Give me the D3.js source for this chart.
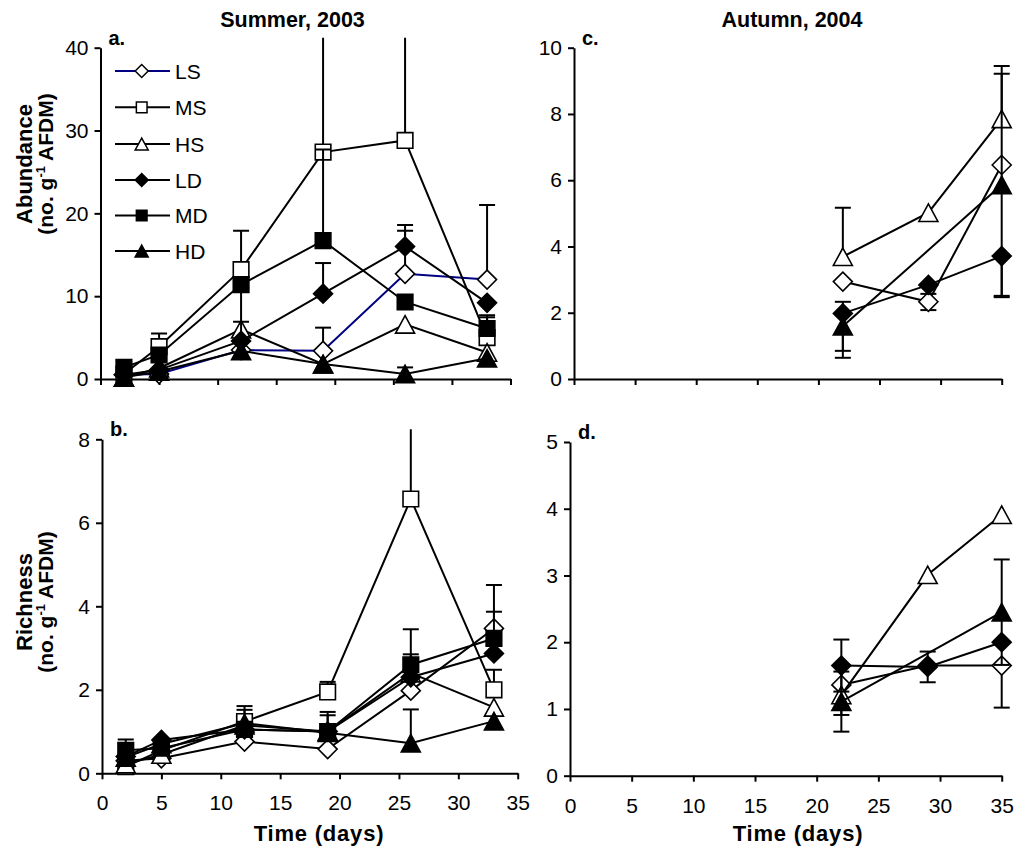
<!DOCTYPE html>
<html>
<head>
<meta charset="utf-8">
<script src="https://cdn.jsdelivr.net/npm/d3@7"></script>
<style>
  html, body { margin: 0; padding: 0; background: #fff; }
  svg { display: block; }
</style>
</head>
<body>
<svg id="chart" width="1021" height="847"></svg>
<script>
// ---------------- data ----------------
const summerDays = [2, 5, 12, 19, 26, 33];
const autumnDays = [22, 29, 35];
const treatments = ["LS", "MS", "HS", "LD", "MD", "HD"];
const xTicks = [0, 5, 10, 15, 20, 25, 30, 35];

// Summer 2003 abundance (no. g-1 AFDM), mean and upper SE
const abSumLS = [0.5, 0.6, 3.5, 3.4, 12.7, 12.0];
const abSumMS = [0.6, 3.9, 13.2, 27.4, 28.8, 5.0];
const abSumHS = [0.2, 1.3, 6.0, 1.8, 6.6, 3.2];
const abSumLD = [0.5, 1.1, 4.6, 10.3, 16.0, 9.2];
const abSumMD = [1.4, 2.9, 11.4, 16.7, 9.3, 6.1];
const abSumHD = [0.2, 0.9, 3.4, 1.8, 0.6, 2.5];
const abSumErrLS = [0, 0, 0, 2.8, 5.2, 9.0];
const abSumErrMS = [0, 1.6, 4.7, 20, 20, 2.45];
const abSumErrHS = [0, 0, 5.0, 0, 0, 0];
const abSumErrLD = [0, 0, 2.3, 3.7, 2.6, 0];
const abSumErrMD = [0, 0, 0, 11.0, 0, 1.6];
const abSumErrHD = [0, 0, 0, 0, 0.8, 0];

// Summer 2003 richness (no. g-1 AFDM), mean and upper SE
const riSumLS = [0.3, 0.36, 0.76, 0.58, 1.98, 3.47];
const riSumMS = [0.16, 0.55, 1.24, 1.95, 6.57, 2.0];
const riSumHS = [0.22, 0.45, 1.15, 1.0, 2.4, 1.58];
const riSumLD = [0.4, 0.8, 1.05, 1.0, 2.3, 2.87];
const riSumMD = [0.55, 0.6, 1.05, 1.0, 2.6, 3.23];
const riSumHD = [0.38, 0.7, 1.2, 0.97, 0.72, 1.25];
const riSumErrLS = [0, 0, 0, 0, 0, 0.4];
const riSumErrMS = [0, 0, 0.37, 0.24, 2.0, 0.48];
const riSumErrHS = [0, 0, 0, 0, 0, 0];
const riSumErrLD = [0, 0, 0, 0.39, 0.55, 0];
const riSumErrMD = [0.26, 0, 0, 0.47, 0.85, 1.28];
const riSumErrHD = [0, 0, 0.32, 0, 0.81, 0];

// Autumn 2004 abundance (null = not sampled)
const abAutLS = [2.94, 2.33, 6.46];
const abAutHS = [3.69, 5.02, 7.85];
const abAutLD = [1.98, 2.84, 3.71];
const abAutHD = [1.59, null, 5.86];
const abAutErrLS = [0, 0.25, 0];
const abAutErrHS = [1.48, 0, 1.6];
const abAutErrLD = [1.34, 0.27, 1.24];
const abAutErrHD = [0.74, 0, 3.35];

// Autumn 2004 richness
const riAutLS = [1.36, 1.65, 1.65];
const riAutHS = [1.21, 3.01, 3.91];
const riAutLD = [1.65, 1.63, 2.0];
const riAutHD = [1.11, null, 2.45];
const riAutErrLS = [0, 0, 0.63];
const riAutErrHS = [0.3, 0, 0];
const riAutErrLD = [0.39, 0.23, 0];
const riAutErrHD = [0.45, 0, 0.79];

// ---------------- styling ----------------
const FONT = '"Liberation Sans", Arial, Helvetica, sans-serif';
const TICK_SIZE = "21px";
const markerStyle = {
  LS: { shape: "diamond",  fill: "#fff" },
  MS: { shape: "square",   fill: "#fff" },
  HS: { shape: "triangle", fill: "#fff" },
  LD: { shape: "diamond",  fill: "#000" },
  MD: { shape: "square",   fill: "#000" },
  HD: { shape: "triangle", fill: "#000" }
};

function markerPath(shape, s) {
  // s: nominal marker size in px
  if (shape === "diamond") {
    const r = s * 0.5;
    return `M0,${-r}L${r},0L0,${r}L${-r},0Z`;
  }
  if (shape === "square") {
    const h = s * 0.41;
    return `M${-h},${-h}H${h}V${h}H${-h}Z`;
  }
  const w = s * 0.5, h = s * 0.46;
  return `M0,${-h}L${w},${h}L${-w},${h}Z`;
}

function mk(name, values, err, dir, color) {
  return { name, values, err, dir, color: color || "#000" };
}

const panels = [
  {
    letter: "a.", days: summerDays, yMax: 40, yStep: 10,
    xRange: [100.5, 510.5], yRange: [379, 47.7], xLabels: false,
    series: [
      mk("LS", abSumLS, abSumErrLS, "up", "#000080"),
      mk("MS", abSumMS, abSumErrMS, "up"),
      mk("HS", abSumHS, abSumErrHS, "up"),
      mk("LD", abSumLD, abSumErrLD, "up"),
      mk("MD", abSumMD, abSumErrMD, "up"),
      mk("HD", abSumHD, abSumErrHD, "up")
    ]
  },
  {
    letter: "b.", days: summerDays, yMax: 8, yStep: 2,
    xRange: [102, 517.7], yRange: [773.3, 439.3], xLabels: true,
    series: [
      mk("LS", riSumLS, riSumErrLS, "up"),
      mk("MS", riSumMS, riSumErrMS, "up"),
      mk("HS", riSumHS, riSumErrHS, "up"),
      mk("LD", riSumLD, riSumErrLD, "up"),
      mk("MD", riSumMD, riSumErrMD, "up"),
      mk("HD", riSumHD, riSumErrHD, "up")
    ]
  },
  {
    letter: "c.", days: autumnDays, yMax: 10, yStep: 2,
    xRange: [574, 1001.7], yRange: [379, 47.7], xLabels: false,
    series: [
      mk("LS", abAutLS, abAutErrLS, "down"),
      mk("HS", abAutHS, abAutErrHS, "up"),
      mk("LD", abAutLD, abAutErrLD, "down"),
      mk("HD", abAutHD, abAutErrHD, "both")
    ]
  },
  {
    letter: "d.", days: autumnDays, yMax: 5, yStep: 1,
    xRange: [570, 1001.7], yRange: [775.7, 442], xLabels: true,
    series: [
      mk("LS", riAutLS, riAutErrLS, "down"),
      mk("HS", riAutHS, riAutErrHS, "down"),
      mk("LD", riAutLD, riAutErrLD, "both"),
      mk("HD", riAutHD, riAutErrHD, "both")
    ]
  }
];

// ---------------- drawing ----------------
const svg = d3.select("#chart").style("font-family", FONT);

panels.forEach((p, pi) => {
  const x = d3.scaleLinear().domain([0, 35]).range(p.xRange);
  const y = d3.scaleLinear().domain([0, p.yMax]).range(p.yRange);
  const g = svg.append("g");

  // clip region: the plot area plus a little head-room for error bars
  const clipId = "clip" + pi;
  svg.append("clipPath").attr("id", clipId).append("rect")
    .attr("x", p.xRange[0] - 20).attr("y", p.yRange[1] - 10)
    .attr("width", p.xRange[1] - p.xRange[0] + 40)
    .attr("height", p.yRange[0] - p.yRange[1] + 30);

  // axes
  const xAxis = d3.axisBottom(x).tickValues(xTicks).tickSize(6)
    .tickSizeOuter(0).tickPadding(16).tickFormat(d3.format("d"));
  if (!p.xLabels) xAxis.tickFormat("");
  const gx = g.append("g").attr("transform", `translate(0,${p.yRange[0]})`).call(xAxis);

  const yAxis = d3.axisLeft(y).tickValues(d3.range(0, p.yMax + 1e-9, p.yStep))
    .tickSize(6).tickSizeOuter(0).tickPadding(6).tickFormat(d3.format("d"));
  const gy = g.append("g").attr("transform", `translate(${p.xRange[0]},0)`).call(yAxis);

  [gx, gy].forEach(ax => {
    ax.select(".domain").attr("stroke", "#000").attr("stroke-width", 2);
    ax.selectAll(".tick line").attr("stroke", "#000").attr("stroke-width", 2);
    ax.selectAll(".tick text").attr("fill", "#000")
      .style("font-size", TICK_SIZE).style("font-family", FONT);
  });

  // panel letter
  g.append("text").attr("x", p.xRange[0] + 8).attr("y", p.yRange[1] - 3)
    .style("font-size", "20px").style("font-weight", "bold").text(p.letter);

  const plot = g.append("g");

  p.series.forEach(s => {
    const st = markerStyle[s.name];
    const pts = p.days.map((d, i) => ({ day: d, v: s.values[i], e: s.err[i] }))
      .filter(d => d.v !== null);

    // connecting line
    const line = d3.line().x(d => x(d.day)).y(d => y(d.v));
    plot.append("path").datum(pts).attr("d", line)
      .attr("fill", "none").attr("stroke", s.color).attr("stroke-width", 2);

    // error bars
    const eg = plot.append("g").attr("clip-path", `url(#${clipId})`);
    pts.filter(d => d.e > 0).forEach(d => {
      const ends = [];
      if (s.dir === "up" || s.dir === "both") ends.push(d.v + d.e);
      if (s.dir === "down" || s.dir === "both") ends.push(d.v - d.e);
      ends.forEach(ev => {
        eg.append("line").attr("x1", x(d.day)).attr("x2", x(d.day))
          .attr("y1", y(d.v)).attr("y2", y(ev))
          .attr("stroke", "#000").attr("stroke-width", 2);
        eg.append("line").attr("x1", x(d.day) - 8).attr("x2", x(d.day) + 8)
          .attr("y1", y(ev)).attr("y2", y(ev))
          .attr("stroke", "#000").attr("stroke-width", 2);
      });
    });

    // markers
    plot.append("g").selectAll("path").data(pts).join("path")
      .attr("d", markerPath(st.shape, 19))
      .attr("transform", d => `translate(${x(d.day)},${y(d.v)})`)
      .attr("fill", st.fill).attr("stroke", "#000").attr("stroke-width", 1.6);
  });
});

// ---------------- legend (panel a) ----------------
const legendRows = [71, 107.3, 144, 180, 215.5, 251];
const legend = svg.append("g");
treatments.forEach((name, i) => {
  const st = markerStyle[name];
  const yy = legendRows[i];
  legend.append("line").attr("x1", 115).attr("x2", 170).attr("y1", yy).attr("y2", yy)
    .attr("stroke", name === "LS" ? "#000080" : "#000").attr("stroke-width", 2);
  legend.append("path").attr("d", markerPath(st.shape, 13))
    .attr("transform", `translate(141.7,${yy})`)
    .attr("fill", st.fill).attr("stroke", "#000").attr("stroke-width", 1.5);
  legend.append("text").attr("x", 175).attr("y", yy + 7.5)
    .style("font-size", "21px").text(name);
});

// ---------------- titles ----------------
function boldText(x, y, txt, size, spacing) {
  return svg.append("text").attr("x", x).attr("y", y).attr("text-anchor", "middle")
    .style("font-size", size + "px").style("font-weight", "bold")
    .style("letter-spacing", (spacing || 0) + "px").text(txt);
}
boldText(292.5, 27, "Summer, 2003", 21.5);
boldText(792, 27, "Autumn, 2004", 21.5);
boldText(319, 841, "Time (days)", 22, 0.8);
boldText(798, 841, "Time (days)", 22, 0.8);

function yTitle(cy, first) {
  svg.append("text").attr("transform", `translate(32,${cy}) rotate(-90)`)
    .attr("text-anchor", "middle").style("font-size", "22px").style("font-weight", "bold")
    .text(first);
  const t = svg.append("text").attr("transform", `translate(53,${cy}) rotate(-90)`)
    .attr("text-anchor", "middle").style("font-size", "21px").style("font-weight", "bold");
  t.append("tspan").text("(no. g");
  t.append("tspan").attr("dy", -8).style("font-size", "13px").text("-1");
  t.append("tspan").attr("dy", 8).text(" AFDM)");
}
yTitle(164, "Abundance");
yTitle(602, "Richness");
</script>
</body>
</html>
